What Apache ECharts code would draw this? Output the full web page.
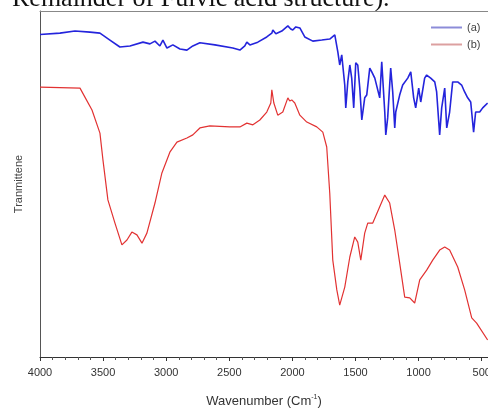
<!DOCTYPE html>
<html>
<head>
<meta charset="utf-8">
<script src="https://cdn.jsdelivr.net/npm/echarts@6/dist/echarts.min.js"></script>
<style>html,body{margin:0;padding:0;background:#fff;}#c{width:488px;height:410px;}</style>
</head>
<body>
<div id="c"></div>
<script>
// Wavenumbers (cm^-1) and transmittance (arbitrary units, 0-100)
const waveA = [4000,3842,3723,3604,3525,3446,3367,3287,3184,3129,3089,3050,3026,2994,2947,2891,2836,2789,2733,2614,2472,2416,2377,2361,2337,2274,2203,2163,2155,2131,2084,2036,2013,1997,1973,1941,1902,1838,1767,1704,1664,
  1640,1625,1609,1585,1577,1561,1545,1530,1514,1498,1482,1466,1450,1427,1411,1387,1371,1347,1332,1308,1292,1268,1260,1245,1221,1205,1189,1181,1150,1126,1086,1062,1039,1023,999,983,952,936,904,872,857,833,817,793,777,754,730,690,659,635,611,587,564,548,516,492,453];
const transA = [93.2,93.6,94.2,93.9,93.6,91.6,89.6,89.9,91.0,90.5,91.3,89.9,91.6,89.3,90.2,89.0,88.7,89.9,90.8,90.2,89.3,88.7,89.9,91.0,90.2,91.0,92.5,93.6,94.5,93.4,94.2,95.7,94.8,94.5,95.4,95.1,92.5,91.3,91.6,91.9,93.1,
  88.2,84.4,87.3,78.6,72.0,79.5,84.4,80.6,72.0,85.0,84.4,77.7,68.5,74.9,75.7,83.5,82.4,80.6,80.9,74.9,85.3,70.8,64.2,69.1,83.5,76.6,66.2,70.8,75.7,78.6,80.6,82.4,74.9,72.0,77.7,73.7,80.6,81.5,80.6,79.5,76.6,64.2,72.0,77.7,66.2,70.8,79.5,79.5,78.6,76.6,74.9,73.7,65.0,70.8,70.8,72.0,73.4];
const waveB = [4000,3683,3644,3588,3525,3501,3462,3406,3351,3311,3272,3232,3192,3153,3089,3034,2971,2915,2836,2789,2733,2654,2496,2416,2361,2313,2258,2203,2171,2163,2147,2116,2076,2036,2021,2005,1981,1941,1886,1807,1759,1728,1704,1680,1648,1625,1585,1545,1506,1482,1458,1427,1403,1363,1308,1268,1229,1189,1150,1110,1070,1031,991,936,888,833,793,754,690,635,579,540,453];
const transB = [78.0,77.7,75.1,71.4,64.7,56.9,45.4,38.7,32.4,33.8,36.1,35.3,32.9,35.8,44.5,53.2,59.2,62.1,63.3,64.2,66.2,66.8,66.5,66.5,67.6,67.1,68.5,70.8,73.4,77.2,73.4,69.9,70.8,74.9,74.0,74.3,73.4,69.9,67.9,66.5,65.0,60.7,47.4,28.0,19.4,15.0,20.2,28.9,34.7,33.2,28.0,35.8,38.7,38.7,43.4,46.8,44.5,36.7,27.2,17.3,17.1,15.6,22.3,25.1,28.0,30.9,31.8,30.9,26.0,19.4,11.3,9.8,4.9];
const seriesNames = ['(a)', '(b)'];
const xTitle = 'Wavenumber (Cm{sup|-1})';
const yTitle = 'Tranmittene';
const caption = 'Remainder of Fulvic acid structure).';

// x axis is plotted as negative wavenumber so it runs 4000 -> 450 left to right
const toPts = (w, t) => w.map((x, i) => [-x, t[i]]);

const chart = echarts.init(document.getElementById('c'), null, {renderer: 'canvas'});
chart.setOption({
  animation: false,
  backgroundColor: '#fff',
  grid: {left: 40, right: 0, top: 11, bottom: 53, containLabel: false, outerBoundsMode: 'none'},
  graphic: [{
    type: 'text', left: 12, top: -14,
    style: {text: caption, font: '26px "Liberation Serif", "Times New Roman", serif', fill: '#111'}
  }],
  legend: {
    orient: 'vertical', left: 426, top: 17, itemWidth: 31, itemHeight: 2, itemGap: 6,
    icon: 'rect',
    textStyle: {fontSize: 11, color: '#444', fontFamily: 'Liberation Sans, Arial, sans-serif'},
    data: [
      {name: seriesNames[0], itemStyle: {color: '#8c8cd8'}},
      {name: seriesNames[1], itemStyle: {color: '#dca0a0'}}
    ]
  },
  xAxis: [{
    type: 'value', min: -4000, max: -450, interval: 500,
    axisLine: {show: true, lineStyle: {color: '#333', width: 1}},
    axisTick: {show: true, length: 4, lineStyle: {color: '#333'}},
    minorTick: {show: true, splitNumber: 5, length: 3, lineStyle: {color: '#555'}},
    splitLine: {show: false},
    axisLabel: {
      margin: 10, fontSize: 11, color: '#333', fontFamily: 'Liberation Sans, Arial, sans-serif',
      formatter: v => (Math.round(v) % 500 === 0 ? String(-Math.round(v)) : '')
    },
    name: xTitle, nameLocation: 'middle', nameGap: 37,
    nameTextStyle: {fontSize: 13, color: '#333', fontFamily: 'Liberation Sans, Arial, sans-serif',
      rich: {sup: {fontSize: 7, verticalAlign: 'top', padding: [0,0,8,0], color: '#333'}}}
  }, {
    type: 'value', position: 'top', min: -4000, max: -450,
    axisLine: {show: true, onZero: false, lineStyle: {color: '#888', width: 1}},
    axisTick: {show: false}, axisLabel: {show: false}, splitLine: {show: false}
  }],
  yAxis: {
    type: 'value', min: 0, max: 100,
    axisLine: {show: true, lineStyle: {color: '#555', width: 1}},
    axisTick: {show: false}, axisLabel: {show: false}, splitLine: {show: false},
    name: yTitle, nameLocation: 'middle', nameGap: 16, nameRotate: 90,
    nameTextStyle: {fontSize: 11, color: '#444', fontFamily: 'Liberation Sans, Arial, sans-serif', padding: [0,0,0,0]}
  },
  series: [
    {name: seriesNames[0], type: 'line', data: toPts(waveA, transA), showSymbol: false, symbol: 'none',
      lineStyle: {color: '#2424dc', width: 1.6}, itemStyle: {color: '#2424dc'}},
    {name: seriesNames[1], type: 'line', data: toPts(waveB, transB), showSymbol: false, symbol: 'none',
      lineStyle: {color: '#e23232', width: 1.2}, itemStyle: {color: '#e23232'}}
  ]
});
</script>
</body>
</html>
